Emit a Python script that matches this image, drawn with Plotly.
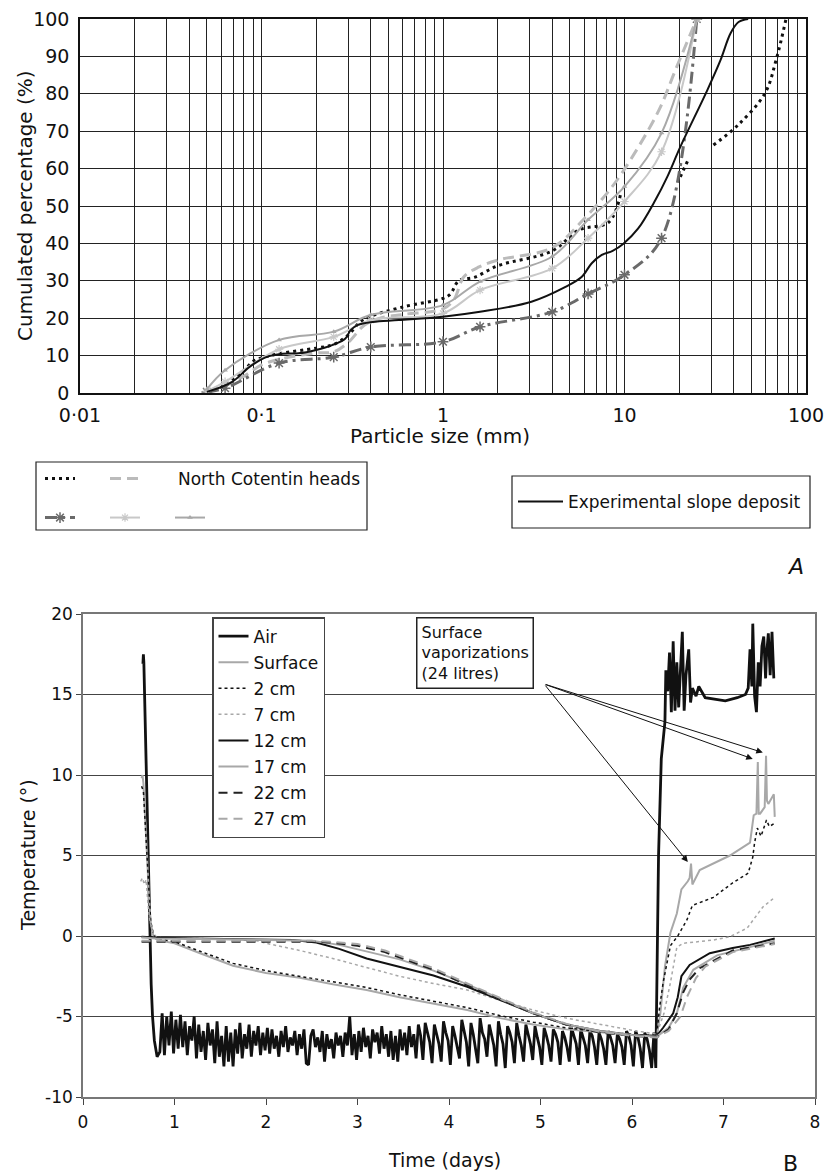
import plotly.graph_objects as go

# ---------------- A : particle size curves ----------------
sieve_mm = [0.05, 0.063, 0.125, 0.25, 0.4, 1, 1.6, 4, 6.3, 10, 16, 25]
head_dashdot_pct = [0.3, 1.3, 8, 9.6, 12.3, 13.7, 17.7, 21.7, 26.5, 31.6, 41.4, 100]
head_cross_pct = [0.5, 3, 11.7, 15, 19.5, 21.3, 27.5, 33.3, 41.4, 51.2, 64.5, 100]
head_tri_pct = [1, 6.1, 14.2, 16.4, 20.9, 23.5, 29.8, 36.5, 46.3, 55.2, 69.5, 100]

head_dot_mm = [0.05, 0.063, 0.08, 0.09, 0.1, 0.125, 0.2, 0.25, 0.3, 0.35, 0.4, 0.6, 1, 1.1, 1.22,
               1.5, 2, 4, 5.6, 8.2, 9.6, None, 20.3, 22.4, None, 30.9, 42.3, 59.5, 68.4, 77.6]
head_dot_pct = [0.3, 2, 6, 8.5, 9.4, 10.5, 12, 13, 15.5, 19, 20.5, 23, 25.3, 26.5, 30,
                31, 34, 38, 43.6, 45.7, 54, None, 57.8, 62.3, None, 66.3, 71.7, 80.2, 89, 100]

head_dash_mm = [0.05, 0.063, 0.08, 0.1, 0.125, 0.2, 0.25, 0.3, 0.37, 0.45, 0.6, 1, 1.15, 1.3,
                1.58, 2.03, 3.98, 6.1, 8.5, 11, 15.5, 19.1, 25]
head_dash_pct = [0.5, 2, 4.5, 7.5, 9, 10.7, 11, 13.5, 18.2, 20, 21, 22.5, 25, 31,
                 33.7, 35.6, 38.8, 47, 55, 63, 75.7, 86.4, 100]

exp_mm = [0.05, 0.069, 0.086, 0.106, 0.13, 0.16, 0.2, 0.245, 0.29, 0.31, 0.34, 0.41, 0.57, 1, 1.6,
          3.07, 4.7, 5.8, 6.6, 7.5, 8.6, 9.9, 11.9, 14.8, 17.2, 20.3, 28.6, 33.8, 38.4, 42.5, 48]
exp_pct = [0.3, 3, 7, 9.6, 10.5, 10.6, 11.5, 12.8, 14.6, 16.8, 18.2, 19, 19.5, 20.4, 21.7,
           24.4, 28.3, 31, 34.7, 36.9, 38, 40, 44, 51.6, 57.8, 65.8, 81, 89, 96.2, 99.2, 100]

size_labels = {0.01: "0·01", 0.1: "0·1", 1: "1", 10: "10", 100: "100"}

# ---------------- B : temperatures ----------------
temp_ticks = [-10, -5, 0, 5, 10, 15, 20]
temp_labels = ["-10", "-5", "0", "5", "10", "15", "20"]

air_t = [0.655, 0.66, 0.665, 0.68, 0.70, 0.72, 0.73, 0.745, 0.76, 0.78, 0.81]
air_T = [16.9, 17.5, 17.0, 13, 7, 2, 0, -3, -5, -6.5, -7.5]
# logger readings during the cold phase, one every 0.025 day from day 0.84
air_cold = [
    -7.2, -4.8, -7.4, -5.0, -6.8, -4.7, -7.3, -5.2,
    -7.0, -4.9, -6.9, -5.3, -7.4, -5.6, -6.5, -5.0,
    -7.6, -5.5, -7.2, -5.9, -7.7, -5.4, -6.8, -5.8,
    -7.9, -5.3, -7.5, -6.2, -8.1, -5.6, -7.8, -6.0,
    -8.1, -5.8, -7.3, -5.4, -7.6, -6.1, -7.0, -5.5,
    -7.5, -5.9, -6.8, -5.6, -7.4, -6.0, -7.1, -5.7,
    -7.3, -5.8, -7.0, -6.2, -7.5, -5.9, -6.9, -5.6,
    -7.2, -6.3, -6.8, -5.9, -7.4, -6.1, -7.0, -5.8,
    -7.9, -8.0, -6.2, -5.8, -6.9, -6.3, -7.2, -5.9,
    -7.8, -6.1, -7.0, -6.4, -7.6, -6.0, -6.8, -6.2,
    -7.5, -6.0, -6.8, -5.0, -7.4, -6.1, -7.7, -5.9,
    -7.2, -5.7, -6.9, -6.2, -7.6, -5.8, -6.6, -6.0,
    -7.3, -5.6, -7.0, -6.1, -7.5, -5.9, -7.7, -6.2,
    -7.8, -5.8, -7.1, -6.0, -7.4, -5.6, -6.9, -6.1,
    -7.6, -5.5, -6.2, -7.7, -5.4, -6.0, -6.6, -7.9,
    -5.5, -6.1, -6.7, -7.8, -5.3, -6.0, -6.5, -8.0,
    -5.6, -6.2, -6.8, -7.6, -5.2, -5.9, -6.6, -8.1,
    -5.4, -6.1, -6.9, -7.9, -5.1, -6.0, -6.4, -7.5,
    -5.5, -6.2, -6.8, -8.1, -5.3, -6.1, -6.7, -8.2,
    -5.6, -6.0, -6.6, -7.9, -5.4, -6.2, -6.8, -7.8,
    -5.5, -6.1, -6.7, -7.7, -5.6, -6.3, -6.9, -8.0,
    -5.7, -6.2, -6.8, -7.8, -5.8, -6.1, -6.6, -8.0,
    -5.9, -6.3, -6.9, -7.8, -5.7, -6.2, -6.7, -8.0,
    -5.8, -6.3, -6.8, -7.9, -5.9, -6.2, -6.9, -8.0,
    -6.0, -6.4, -7.0, -8.0, -5.9, -6.3, -6.8, -7.9,
    -6.1, -6.4, -6.9, -8.0, -5.9, -6.2, -6.8, -8.1,
    -5.9, -6.3, -7.0, -8.2, -6.0, -6.4, -7.1, -8.2,
]
air_warm_t = [6.24, 6.26, 6.265, 6.275, 6.29, 6.32, 6.36, 6.37, 6.39, 6.41, 6.43, 6.45, 6.47, 6.49,
              6.51, 6.55, 6.57, 6.59, 6.62, 6.64, 6.66, 6.70, 6.73, 6.80, 6.90, 7.02, 7.15, 7.24,
              7.27, 7.29, 7.31, 7.32, 7.34, 7.36, 7.38, 7.40, 7.42, 7.44, 7.46, 7.47, 7.49, 7.51,
              7.53, 7.55]
air_warm_T = [-6.0, -8.2, -6.3, -2, 5, 11, 13.3, 16.5, 15.2, 17.6, 13.9, 18.3, 14.0, 17.0,
              14.2, 18.9, 14.0, 16.2, 17.8, 14.5, 15.4, 14.9, 15.5, 14.8, 14.7, 14.6, 14.8, 15.0,
              15.4, 17.8, 15.5, 19.4, 14.9, 13.9, 17.0, 15.5, 18.0, 18.6, 16.0, 17.4, 18.8, 16.2,
              18.9, 16.0]

surf_t = [0.64, 0.65, 0.66, 0.68, 0.70, 0.72, 0.74, 0.77, 0.80, 0.9, 1.0, 1.28, 1.64, 2.0, 2.37,
          2.73, 3.1, 3.46, 3.83, 4.2, 4.56, 4.92, 5.28, 5.65, 6.0, 6.27, 6.31, 6.36, 6.42, 6.49,
          6.54, 6.61, 6.63, 6.645, 6.66, 6.74, 7.07, 7.29, 7.33, 7.36, 7.375, 7.385, 7.4, 7.45,
          7.465, 7.475, 7.49, 7.53, 7.55, 7.56]
surf_T = [9.8, 10.0, 9.5, 7.5, 5, 2.5, 0.8, 0.0, -0.2, -0.35, -0.45, -1.07, -1.85, -2.3, -2.6,
          -3.0, -3.35, -3.8, -4.2, -4.6, -5.1, -5.5, -5.8, -6.0, -6.15, -6.25, -4.8, -1.9, 0.2, 1.4,
          2.9, 3.4, 3.6, 4.5, 3.2, 4.1, 5.0, 5.8, 7.5, 7.6, 10.8, 7.6, 7.6, 8.0,
          11.2, 8.4, 8.2, 8.6, 8.8, 7.4]

cm2_t = [0.64, 0.66, 0.68, 0.70, 0.72, 0.74, 0.77, 0.80, 0.9, 1.0, 1.28, 1.64, 2.0, 2.37, 2.73,
         3.1, 3.46, 3.83, 4.2, 4.56, 4.92, 5.28, 5.65, 6.0, 6.27, 6.30, 6.34, 6.42, 6.5, 6.6,
         6.66, 6.89, 7.1, 7.27, 7.32, 7.34, 7.37, 7.41, 7.47, 7.5, 7.56]
cm2_T = [9.3, 9.0, 7.0, 4.8, 2.5, 0.9, 0.1, -0.1, -0.25, -0.35, -0.95, -1.7, -2.15, -2.5, -2.85,
         -3.2, -3.65, -4.05, -4.45, -4.95, -5.35, -5.7, -5.95, -6.1, -6.2, -4.5, -2.9, -0.6, 0.0, 1.0,
         1.9, 2.4, 3.3, 3.9, 4.9, 5.8, 6.7, 6.2, 7.2, 6.8, 7.0]

cm7_t = [0.63, 0.65, 0.67, 0.69, 0.71, 0.73, 0.76, 0.80, 0.9, 1.2, 1.6, 1.9, 2.0, 2.37, 2.73,
         3.1, 3.46, 3.83, 4.2, 4.56, 4.92, 5.28, 5.65, 6.0, 6.27, 6.35, 6.42, 6.49, 6.56, 6.7,
         6.89, 7.07, 7.26, 7.43, 7.56]
cm7_T = [3.4, 3.6, 3.2, 3.5, 2.0, 1.0, 0.3, -0.05, -0.15, -0.15, -0.2, -0.3, -0.45, -0.9, -1.4,
         -1.95, -2.5, -2.95, -3.35, -4.0, -4.6, -5.1, -5.5, -5.85, -6.1, -4.8, -2.9, -0.7, -0.45, -0.35,
         -0.25, -0.05, 0.5, 1.8, 2.4]

cm12_t = [0.64, 0.8, 1.2, 1.8, 2.3, 2.55, 2.8, 3.1, 3.46, 3.83, 4.2, 4.56, 4.92, 5.28, 5.65, 6.0,
          6.27, 6.34, 6.45, 6.5, 6.54, 6.63, 6.85, 7.1, 7.29, 7.56]
cm12_T = [-0.05, -0.1, -0.15, -0.2, -0.25, -0.4, -0.8, -1.4, -1.9, -2.45, -3.15, -4.0, -4.8, -5.5,
          -5.9, -6.15, -6.2, -5.7, -4.8, -3.8, -2.5, -1.8, -1.07, -0.75, -0.55, -0.15]

cm17_t = [0.64, 0.8, 1.5, 2.0, 2.5, 2.8, 3.1, 3.46, 3.83, 4.2, 4.56, 4.92, 5.28, 5.65, 6.0, 6.27,
          6.4, 6.49, 6.56, 6.67, 6.93, 7.2, 7.56]
cm17_T = [-0.1, -0.15, -0.2, -0.25, -0.3, -0.55, -0.95, -1.45, -2.15, -3.0, -3.9, -4.8, -5.5, -5.9,
          -6.15, -6.25, -5.7, -4.8, -3.2, -2.1, -1.2, -0.8, -0.3]

cm22_t = [0.64, 0.8, 1.5, 2.0, 2.5, 2.7, 3.0, 3.3, 3.57, 3.83, 4.2, 4.56, 4.92, 5.28, 5.65, 6.0,
          6.27, 6.4, 6.49, 6.56, 6.63, 6.74, 7.1, 7.56]
cm22_T = [-0.35, -0.35, -0.35, -0.35, -0.35, -0.4, -0.6, -1.0, -1.55, -2.1, -3.05, -3.9, -4.8, -5.5,
          -6.0, -6.2, -6.3, -5.8, -4.8, -3.5, -2.7, -2.0, -0.9, -0.45]

cm27_t = [0.64, 0.8, 1.5, 2.0, 2.5, 2.7, 3.0, 3.3, 3.57, 3.83, 4.2, 4.56, 4.92, 5.28, 5.65, 6.0,
          6.27, 6.4, 6.53, 6.6, 6.7, 6.8, 7.1, 7.56]
cm27_T = [-0.3, -0.3, -0.3, -0.3, -0.3, -0.35, -0.5, -0.9, -1.45, -2.0, -2.95, -3.85, -4.75, -5.45,
          -5.95, -6.2, -6.3, -5.9, -5.0, -3.8, -2.6, -1.9, -1.0, -0.5]

# assemble the air record
air_time = air_t + [round(0.84 + 0.025 * i, 3) for i in range(len(air_cold))] + air_warm_t
air_temp = air_T + air_cold + air_warm_T

FONT = "DejaVu Sans"
W, H = 826, 1176


def px(x):
    return x / W


def py(y):
    return 1 - y / H


fig = go.Figure()

# ---- chart A traces ----
fig.add_trace(go.Scatter(x=head_dot_mm, y=head_dot_pct, mode="lines", name="",
                         line=dict(color="#111", width=3, dash="3px,4px", shape="spline"),
                         xaxis="x", yaxis="y", legend="legend2"))
fig.add_trace(go.Scatter(x=head_dash_mm, y=head_dash_pct, mode="lines", name="",
                         line=dict(color="#bbb", width=3, dash="11px,6px", shape="spline"),
                         xaxis="x", yaxis="y", legend="legend2"))
fig.add_trace(go.Scatter(x=sieve_mm, y=head_dashdot_pct, mode="lines+markers", name="",
                         line=dict(color="#6a6a6a", width=3, dash="12px,5px,3px,5px", shape="spline"),
                         marker=dict(symbol="asterisk-open", size=9, color="#6a6a6a", line=dict(width=1.5, color="#6a6a6a")),
                         xaxis="x", yaxis="y", legend="legend3"))
fig.add_trace(go.Scatter(x=sieve_mm, y=head_cross_pct, mode="lines+markers", name="",
                         line=dict(color="#c8c8c8", width=2, shape="spline"),
                         marker=dict(symbol="asterisk-open", size=7, color="#c8c8c8", line=dict(width=1.2, color="#c8c8c8")),
                         xaxis="x", yaxis="y", legend="legend3"))
fig.add_trace(go.Scatter(x=sieve_mm, y=head_tri_pct, mode="lines+markers", name="",
                         line=dict(color="#a8a8a8", width=2, shape="spline"),
                         marker=dict(symbol="triangle-up", size=5, color="#a8a8a8"),
                         xaxis="x", yaxis="y", legend="legend3"))
fig.add_trace(go.Scatter(x=exp_mm, y=exp_pct, mode="lines", name="Experimental slope deposit",
                         line=dict(color="#111", width=2, shape="spline"),
                         xaxis="x", yaxis="y", legend="legend4"))

# ---- chart B traces ----
series_b = [
    ("Air", air_time, air_temp, "#111", 2.8, "solid"),
    ("Surface", surf_t, surf_T, "#a8a8a8", 2, "solid"),
    ("2 cm", cm2_t, cm2_T, "#111", 1.5, "dot"),
    ("7 cm", cm7_t, cm7_T, "#a8a8a8", 1.5, "dot"),
    ("12 cm", cm12_t, cm12_T, "#111", 2, "solid"),
    ("17 cm", cm17_t, cm17_T, "#a8a8a8", 2, "solid"),
    ("22 cm", cm22_t, cm22_T, "#222", 2, "9px,6px"),
    ("27 cm", cm27_t, cm27_T, "#a8a8a8", 2, "9px,6px"),
]
for name, t, T, col, w, dash in series_b:
    fig.add_trace(go.Scatter(x=t, y=T, mode="lines", name=name, legendgroup=name,
                             line=dict(color=col, width=w, dash=dash),
                             xaxis="x2", yaxis="y2", legend="legend"))

# ---- axes ----
grid_mm = [round(m * 10 ** e, 4) for e in range(-2, 2) for m in range(1, 10)] + [100]
fig.update_layout(
    width=W, height=H, margin=dict(l=0, r=0, t=0, b=0),
    paper_bgcolor="white", plot_bgcolor="white",
    font=dict(family=FONT, color="#111"),
    xaxis=dict(domain=[px(80), px(806)], anchor="y", type="log", range=[-2, 2],
               tickvals=grid_mm, ticktext=[size_labels.get(v, "") for v in grid_mm],
               showgrid=True, gridcolor="#222", gridwidth=1, zeroline=False,
               showline=True, linecolor="#111", linewidth=1.5, mirror=True,
               ticks="", tickfont=dict(size=19), ticklabelstandoff=4, automargin=False),
    yaxis=dict(domain=[py(393), py(19)], anchor="x", range=[0, 100], dtick=10,
               showgrid=True, gridcolor="#222", gridwidth=1, zeroline=False,
               showline=True, linecolor="#111", linewidth=1.5, mirror=True,
               ticks="", tickfont=dict(size=19), ticklabelstandoff=5, automargin=False),
    xaxis2=dict(domain=[px(83), px(815)], anchor="y2", range=[0, 8], dtick=1,
                showgrid=False, zeroline=False, showline=True, linecolor="#777", linewidth=1.5,
                mirror=True, ticks="outside", ticklen=6, tickcolor="#444",
                tickfont=dict(size=17), ticklabelstandoff=3, automargin=False),
    yaxis2=dict(domain=[py(1097), py(614)], anchor="x2", range=[-10, 20],
                tickvals=temp_ticks, ticktext=temp_labels,
                showgrid=True, gridcolor="#444", gridwidth=1.2, zeroline=False,
                showline=True, linecolor="#777", linewidth=1.5, mirror=True,
                ticks="outside", ticklen=5, tickcolor="#444",
                tickfont=dict(size=17), automargin=False),
    showlegend=True,
    legend=dict(x=px(212), y=py(617), xanchor="left", yanchor="top", bgcolor="white",
                bordercolor="#444", borderwidth=1.5, font=dict(size=17), tracegroupgap=1,
                itemwidth=30, traceorder="grouped"),
    legend2=dict(x=px(40), y=py(461), xanchor="left", yanchor="top", orientation="h",
                 bgcolor="rgba(0,0,0,0)", font=dict(size=17), entrywidth=20,
                 entrywidthmode="pixels", itemwidth=30),
    legend3=dict(x=px(40), y=py(500), xanchor="left", yanchor="top", orientation="h",
                 bgcolor="rgba(0,0,0,0)", font=dict(size=17), entrywidth=20,
                 entrywidthmode="pixels", itemwidth=30),
    legend4=dict(x=px(513), y=py(502), xanchor="left", yanchor="middle", bgcolor="rgba(0,0,0,0)",
                 font=dict(size=17), itemwidth=45),
)

# boxes around the legends of chart A
fig.add_shape(type="rect", xref="paper", yref="paper", x0=px(36), x1=px(367), y0=py(530), y1=py(462),
              line=dict(color="#222", width=1.2))
fig.add_shape(type="rect", xref="paper", yref="paper", x0=px(512), x1=px(810), y0=py(528), y1=py(476),
              line=dict(color="#222", width=1.2))


# ---- text ----
def note(x, y, text, size, angle=0, **kw):
    fig.add_annotation(x=px(x), y=py(y), xref="paper", yref="paper", text=text, textangle=angle,
                       xanchor=kw.pop("xanchor", "center"), yanchor=kw.pop("yanchor", "middle"),
                       showarrow=False, font=dict(size=size), **kw)


note(176, 479, "North Cotentin heads", 17, xanchor="left")
note(440, 436, "Particle size (mm)", 20)
note(25, 206, "Cumulated percentage (%)", 20, angle=-90)
note(795, 566, "<i>A</i>", 22)
note(445, 1160, "Time (days)", 19)
note(28, 855, "Temperature (°)", 19, angle=-90)
note(790, 1163, "B", 22)
note(416, 617, "Surface<br>vaporizations<br>(24 litres)", 16, xanchor="left", yanchor="top",
     align="left", bgcolor="white", bordercolor="#222", borderwidth=1.5, borderpad=4)

# arrows from the note to the vaporization peaks
arrow_tail = (5.04, 15.65)
arrow_heads = [(6.61, 4.6), (7.32, 11.0), (7.43, 11.4)]
for hx, hy in arrow_heads:
    fig.add_annotation(x=hx, y=hy, xref="x2", yref="y2", ax=arrow_tail[0], ay=arrow_tail[1],
                       axref="x2", ayref="y2", text="", showarrow=True, arrowhead=2,
                       arrowsize=1.3, arrowwidth=1, arrowcolor="#111", standoff=0)

fig.write_html("out.html", config={"displayModeBar": False},
               post_script="document.body.style.margin='0';")
